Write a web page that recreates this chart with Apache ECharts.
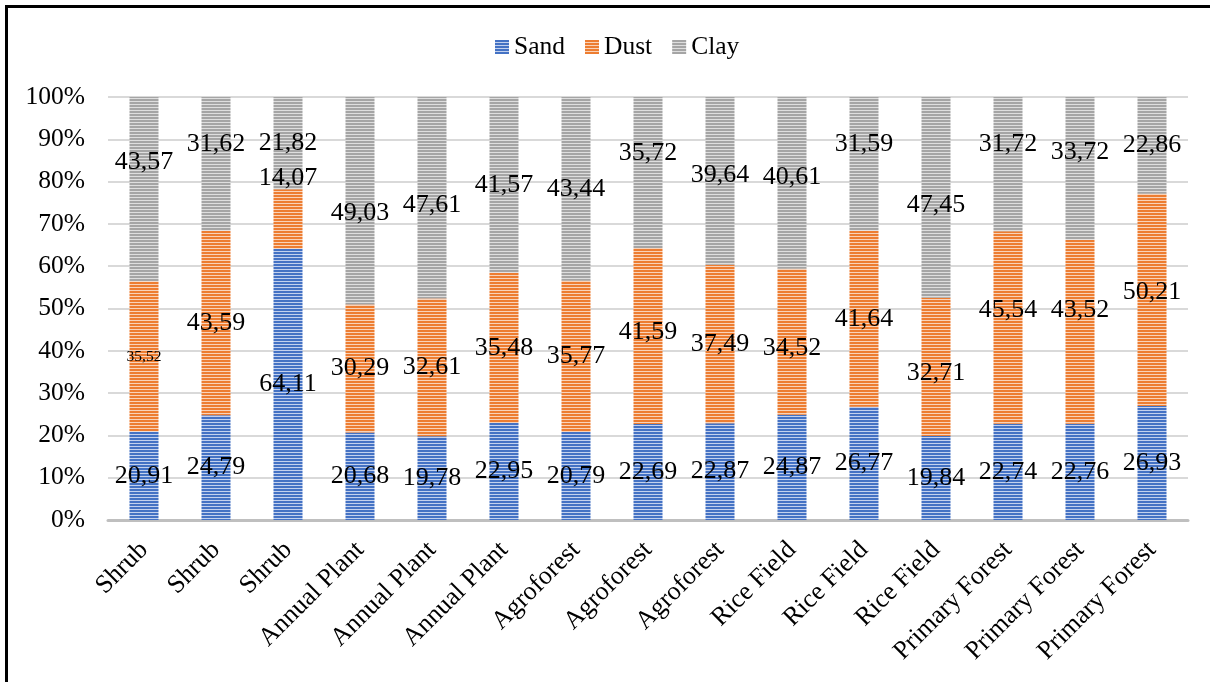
<!DOCTYPE html>
<html>
<head>
<meta charset="utf-8">
<script src="https://cdn.jsdelivr.net/npm/echarts@6/dist/echarts.min.js"></script>
<style>
html,body{margin:0;padding:0;background:#fff;}
#frame{position:absolute;left:5px;top:5px;width:1205px;height:677px;border-top:3px solid #000;border-left:3px solid #000;box-sizing:border-box;}
#main{position:absolute;left:0;top:0;width:1210px;height:682px;}
</style>
</head>
<body>
<div id="frame"></div>
<div id="main"></div>
<script>
const categories = ['Shrub','Shrub','Shrub','Annual Plant','Annual Plant','Annual Plant','Agroforest','Agroforest','Agroforest','Rice Field','Rice Field','Rice Field','Primary Forest','Primary Forest','Primary Forest'];
const sand = [20.91,24.79,64.11,20.68,19.78,22.95,20.79,22.69,22.87,24.87,26.77,19.84,22.74,22.76,26.93];
const dust = [35.52,43.59,14.07,30.29,32.61,35.48,35.77,41.59,37.49,34.52,41.64,32.71,45.54,43.52,50.21];
const clay = [43.57,31.62,21.82,49.03,47.61,41.57,43.44,35.72,39.64,40.61,31.59,47.45,31.72,33.72,22.86];
const yTicks = [0,10,20,30,40,50,60,70,80,90,100];

// label nudges (pixels, style only) — the reference has some labels dragged away from segment centers
const labelNudge = {
  Sand: [0,0,0,0,0,0,0,0,0,0,0,0,0,0,0],
  Dust: [0,0,-41,0,0,0,0,-4,0,6,0,6,-17,-22,-8],
  Clay: [-27,-20,0,12,7,0,0,-19,-6,-6,-20,8,-20,-16,0]
};

function stripe(c1, c2){
  const cv = document.createElement('canvas');
  cv.width = 4; cv.height = 3;
  const ctx = cv.getContext('2d');
  ctx.fillStyle = c2; ctx.fillRect(0,0,4,3);
  ctx.fillStyle = c1; ctx.fillRect(0,0,4,2);
  return {image: cv, repeat: 'repeat'};
}
const FONT = '"Liberation Serif","Times New Roman",serif';
function fmt(v){ return v.toFixed(2).replace('.', ','); }
function mk(name, arr, c1, c2){
  return {
    name: name, type: 'bar', stack: 'total', barWidth: 29,
    itemStyle: {color: stripe(c1, c2)},
    label: {show: true, position: 'inside', color: '#000', fontFamily: FONT, fontSize: 26,
      formatter: p => fmt(p.value)},
    data: arr.map((v,i) => {
      const lab = {offset: [0, labelNudge[name][i]]};
      if (name === 'Dust' && i === 0) lab.fontSize = 15.5;
      return {value: v, label: lab};
    })
  };
}
const chart = echarts.init(document.getElementById('main'));
chart.setOption({
  animation: false,
  legend: {top: 29, left: 490, icon: 'rect', itemWidth: 14, itemHeight: 14, itemGap: 20,
    textStyle: {fontFamily: FONT, fontSize: 25.5, color: '#000'}},
  grid: {left: 108, right: 22, top: 97, bottom: 162},
  xAxis: {type: 'category', data: categories,
    axisLine: {lineStyle: {color: '#bfbfbf', width: 3}}, axisTick: {show: false},
    axisLabel: {rotate: 45, interval: 0, fontFamily: FONT, fontSize: 26, color: '#000', margin: 26}},
  yAxis: {type: 'value', min: 0, max: 100, interval: 10,
    axisLabel: {formatter: v => yTicks.includes(v) ? v + '%' : '', fontFamily: FONT, fontSize: 25.5, color: '#000', margin: 23},
    axisLine: {show: false}, axisTick: {show: false},
    splitLine: {lineStyle: {color: '#d9d9d9', width: 2}}},
  series: [
    mk('Sand', sand, '#4472c4', '#c3d1ee'),
    mk('Dust', dust, '#ed7d31', '#f9d3b9'),
    mk('Clay', clay, '#a5a5a5', '#dedede')
  ]
});
</script>
</body>
</html>
